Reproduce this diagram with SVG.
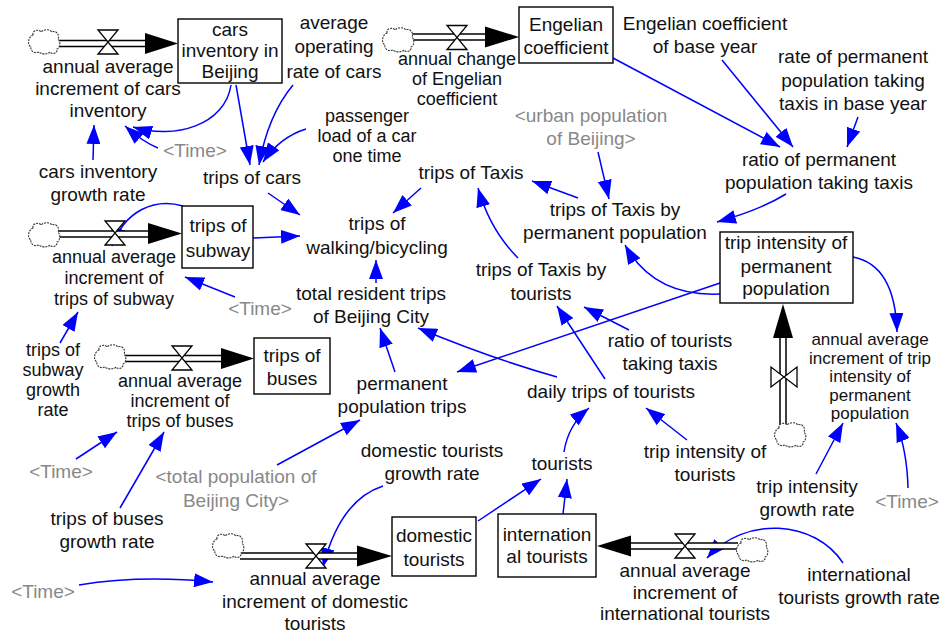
<svg xmlns="http://www.w3.org/2000/svg" width="943" height="637" viewBox="0 0 943 637">
<style>
.t{font-family:"Liberation Sans",Arial,sans-serif;font-size:19px;fill:#111;text-anchor:middle}
.g{fill:#888}
.f18{font-size:18px}
.f17{font-size:17px}
.box{fill:#fff;stroke:#000;stroke-width:1.4}
.po{fill:none;stroke:#000;stroke-width:7.5}
.pi{fill:none;stroke:#fff;stroke-width:4.5}
.fa{fill:#000}
.valve{fill:#fff;stroke:#000;stroke-width:1.3}
.cloud{fill:#fff;stroke:#333;stroke-width:1.1;stroke-dasharray:2 1}
.c{fill:none;stroke:#0000ff;stroke-width:1.5;marker-end:url(#a)}
</style>
<defs>
<marker id="a" markerWidth="19" markerHeight="14" refX="19" refY="7" orient="auto" markerUnits="userSpaceOnUse" viewBox="0 0 19 14"><path d="M0,0 L19,7 L0,14 z" fill="#0000ff"/></marker>
<path id="cl" d="M-11,-7 C-12,-12 -5,-13 -3,-10 C0,-13 6,-13 8,-10 C12,-12 16,-7 14,-3 C17,0 16,6 13,7 C14,11 8,13 6,10 C3,13 -3,12 -5,10 C-9,12 -14,9 -13,5 C-17,3 -16,-5 -11,-7 Z"/>
<path id="vh" d="M-10,-12 H10 L-10,12 H10 Z"/>
<path id="vv" d="M-13,-10 V10 L13,-10 V10 Z"/>
</defs>
<rect width="943" height="637" fill="#fff"/>

<g id="connectors">
<path class="c" d="M231,85 C225,125 175,140 133,127"/>
<path class="c" d="M158,148 Q143,142 125,126"/>
<path class="c" d="M93,160 L94,125"/>
<path class="c" d="M236,85 L250,165"/>
<path class="c" d="M293,85 Q268,115 259,165"/>
<path class="c" d="M306,129 Q280,137 263,162"/>
<path class="c" d="M268,193 L300,215"/>
<path class="c" d="M253,238 L300,236"/>
<path class="c" d="M421,188 L393,213"/>
<path class="c" d="M376,283 L376,260"/>
<path class="c" d="M395,372 L380,328"/>
<path class="c" d="M557,377 Q490,358 418,328"/>
<path class="c" d="M720,283 L457,372"/>
<path class="c" d="M720,294 Q654,297 625,245"/>
<path class="c" d="M786,194 Q760,210 717,222"/>
<path class="c" d="M598,152 L609,199"/>
<path class="c" d="M578,198 L532,181"/>
<path class="c" d="M518,258 Q490,230 478,188"/>
<path class="c" d="M605,379 L557,306"/>
<path class="c" d="M629,330 L584,307"/>
<path class="c" d="M564,452 Q568,425 589,408"/>
<path class="c" d="M687,440 L646,408"/>
<path class="c" d="M478,521 L541,479"/>
<path class="c" d="M563,514 L567,479"/>
<path class="c" d="M383,486 Q340,500 323,567"/>
<path class="c" d="M277,465 L360,420"/>
<path class="c" d="M120,508 L164,432"/>
<path class="c" d="M76,459 L117,432"/>
<path class="c" d="M79,585 Q140,575 213,582"/>
<path class="c" d="M60,343 L78,312"/>
<path class="c" d="M235,297 L185,277"/>
<path class="c" d="M183,206 C155,198 125,210 112,246"/>
<path class="c" d="M613,58 L780,147"/>
<path class="c" d="M722,60 L793,147"/>
<path class="c" d="M858,117 L847,147"/>
<path class="c" d="M853,257 Q895,265 897,332"/>
<path class="c" d="M816,474 L843,423"/>
<path class="c" d="M908,488 Q907,450 896,423"/>
<path class="c" d="M843,563 C815,520 745,515 707,558"/>
</g>

<g id="cars-inventory-flow">
<path class="po" d="M58,43.5 H150"/><path class="pi" d="M58,43.5 H150"/>
<use href="#cl" class="cloud" transform="translate(44,42)"/>
<polygon class="fa" points="145,33 178,43.5 145,54"/>
<use href="#vh" class="valve" transform="translate(108,42)"/>
<text class="t"><tspan x="108" y="73">annual average</tspan><tspan x="108" y="95">increment of cars</tspan><tspan x="108" y="117">inventory</tspan></text>
</g>
<g id="cars-inventory">
<rect class="box" x="178" y="19" width="104" height="64"/>
<text class="t"><tspan x="230" y="36">cars</tspan><tspan x="230" y="57">inventory in</tspan><tspan x="230" y="78">Beijing</tspan></text>
</g>
<g id="average-operating-rate"><text class="t"><tspan x="334" y="29">average</tspan><tspan x="334" y="53">operating</tspan><tspan x="334" y="78">rate of cars</tspan></text></g>
<g id="cars-growth-rate"><text class="t"><tspan x="98" y="178">cars inventory</tspan><tspan x="98" y="201">growth rate</tspan></text></g>
<g id="time-1"><text class="t g" x="195" y="157">&lt;Time&gt;</text></g>
<g id="trips-of-cars"><text class="t" x="252" y="184">trips of cars</text></g>
<g id="passenger-load"><text class="t f18"><tspan x="367" y="122">passenger</tspan><tspan x="367" y="142">load of a car</tspan><tspan x="367" y="162">one time</tspan></text></g>

<g id="engelian-flow">
<path class="po" d="M412,37 H490"/><path class="pi" d="M412,37 H490"/>
<use href="#cl" class="cloud" transform="translate(398,40)"/>
<polygon class="fa" points="485,26.5 519,37 485,47.5"/>
<use href="#vh" class="valve" transform="translate(457,37.5)"/>
<text class="t f18"><tspan x="457" y="65">annual change</tspan><tspan x="457" y="85">of Engelian</tspan><tspan x="457" y="105">coefficient</tspan></text>
</g>
<g id="engelian-coefficient">
<rect class="box" x="519" y="7" width="94" height="56"/>
<text class="t"><tspan x="566" y="31">Engelian</tspan><tspan x="566" y="54">coefficient</tspan></text>
</g>
<g id="engelian-base"><text class="t"><tspan x="705" y="30">Engelian coefficient</tspan><tspan x="705" y="53">of base year</tspan></text></g>
<g id="rate-base-year"><text class="t"><tspan x="853" y="63">rate of permanent</tspan><tspan x="853" y="87">population taking</tspan><tspan x="853" y="110">taxis in base year</tspan></text></g>
<g id="ratio-permanent"><text class="t"><tspan x="819" y="166">ratio of permanent</tspan><tspan x="819" y="189">population taking taxis</tspan></text></g>
<g id="urban-population"><text class="t g"><tspan x="591" y="122">&lt;urban population</tspan><tspan x="591" y="145">of Beijing&gt;</tspan></text></g>
<g id="trips-of-taxis"><text class="t" x="471" y="179">trips of Taxis</text></g>
<g id="taxis-permanent"><text class="t"><tspan x="615" y="216">trips of Taxis by</tspan><tspan x="615" y="239">permanent population</tspan></text></g>

<g id="trip-intensity-stock">
<rect class="box" x="720" y="232" width="133" height="71"/>
<text class="t"><tspan x="786" y="249">trip intensity of</tspan><tspan x="786" y="273">permanent</tspan><tspan x="786" y="295">population</tspan></text>
</g>
<g id="trip-intensity-flow">
<path class="po" d="M783,426 V334"/><path class="pi" d="M783,426 V334"/>
<use href="#cl" class="cloud" transform="translate(790,435)"/>
<polygon class="fa" points="773,338 783,304 793,338"/>
<use href="#vv" class="valve" transform="translate(784,377)"/>
<text class="t f17"><tspan x="870" y="345">annual average</tspan><tspan x="870" y="363.5">increment of trip</tspan><tspan x="870" y="382">intensity of</tspan><tspan x="870" y="400.5">permanent</tspan><tspan x="870" y="419">population</tspan></text>
</g>

<g id="walking"><text class="t"><tspan x="377" y="230">trips of</tspan><tspan x="377" y="254">walking/bicycling</tspan></text></g>
<g id="total-resident"><text class="t"><tspan x="371" y="300">total resident trips</tspan><tspan x="371" y="323">of Beijing City</tspan></text></g>
<g id="taxis-tourists"><text class="t"><tspan x="541" y="276">trips of Taxis by</tspan><tspan x="541" y="300">tourists</tspan></text></g>
<g id="ratio-tourists"><text class="t"><tspan x="670" y="347">ratio of tourists</tspan><tspan x="670" y="370">taking taxis</tspan></text></g>
<g id="daily-trips"><text class="t" x="611" y="398">daily trips of tourists</text></g>
<g id="permanent-trips"><text class="t"><tspan x="402" y="390">permanent</tspan><tspan x="402" y="413">population trips</tspan></text></g>

<g id="subway-flow">
<path class="po" d="M58,234 H152"/><path class="pi" d="M58,234 H152"/>
<use href="#cl" class="cloud" transform="translate(44,235)"/>
<polygon class="fa" points="148,223 182,233.5 148,244"/>
<use href="#vh" class="valve" transform="translate(115,233)"/>
<text class="t f18"><tspan x="114" y="263">annual average</tspan><tspan x="114" y="284">increment of</tspan><tspan x="114" y="305">trips of subway</tspan></text>
</g>
<g id="trips-of-subway">
<rect class="box" x="182" y="206" width="71" height="62"/>
<text class="t"><tspan x="218" y="232">trips of</tspan><tspan x="218" y="257">subway</tspan></text>
</g>
<g id="time-2"><text class="t g" x="260" y="315">&lt;Time&gt;</text></g>
<g id="subway-growth"><text class="t f18"><tspan x="53" y="356">trips of</tspan><tspan x="53" y="376">subway</tspan><tspan x="53" y="396">growth</tspan><tspan x="53" y="416">rate</tspan></text></g>

<g id="buses-flow">
<path class="po" d="M123,358.5 H226"/><path class="pi" d="M123,358.5 H226"/>
<use href="#cl" class="cloud" transform="translate(110,357)"/>
<polygon class="fa" points="221,348 254,358.5 221,369"/>
<use href="#vh" class="valve" transform="translate(182,358)"/>
<text class="t f18"><tspan x="180" y="387">annual average</tspan><tspan x="180" y="407">increment of</tspan><tspan x="180" y="427">trips of buses</tspan></text>
</g>
<g id="trips-of-buses">
<rect class="box" x="254" y="338" width="76" height="56"/>
<text class="t"><tspan x="292" y="362">trips of</tspan><tspan x="292" y="385">buses</tspan></text>
</g>
<g id="time-3"><text class="t g" x="61" y="478">&lt;Time&gt;</text></g>
<g id="buses-growth"><text class="t"><tspan x="107" y="525">trips of buses</tspan><tspan x="107" y="548">growth rate</tspan></text></g>
<g id="total-population"><text class="t g"><tspan x="236" y="483">&lt;total population of</tspan><tspan x="236" y="507">Beijing City&gt;</tspan></text></g>

<g id="domestic-growth"><text class="t"><tspan x="432" y="457">domestic tourists</tspan><tspan x="432" y="480">growth rate</tspan></text></g>
<g id="tourists"><text class="t" x="562" y="470">tourists</text></g>
<g id="trip-intensity-tourists"><text class="t"><tspan x="705" y="458">trip intensity of</tspan><tspan x="705" y="481">tourists</tspan></text></g>
<g id="trip-intensity-growth"><text class="t"><tspan x="807" y="493">trip intensity</tspan><tspan x="807" y="516">growth rate</tspan></text></g>
<g id="time-4"><text class="t g" x="907" y="508">&lt;Time&gt;</text></g>

<g id="domestic-flow">
<path class="po" d="M240,556 H362"/><path class="pi" d="M240,556 H362"/>
<use href="#cl" class="cloud" transform="translate(228,546)"/>
<polygon class="fa" points="357,545.5 392,556 357,566.5"/>
<use href="#vh" class="valve" transform="translate(316,556)"/>
<text class="t"><tspan x="315" y="585">annual average</tspan><tspan x="315" y="608">increment of domestic</tspan><tspan x="315" y="630">tourists</tspan></text>
</g>
<g id="domestic-tourists">
<rect class="box" x="392" y="517" width="84" height="59"/>
<text class="t"><tspan x="434" y="542">domestic</tspan><tspan x="434" y="566">tourists</tspan></text>
</g>
<g id="international-tourists">
<rect class="box" x="498" y="514" width="98" height="63"/>
<text class="t"><tspan x="547" y="541">internation</tspan><tspan x="547" y="563">al tourists</tspan></text>
</g>
<g id="international-flow">
<path class="po" d="M738,546 H626"/><path class="pi" d="M738,546 H626"/>
<use href="#cl" class="cloud" transform="translate(752,550)"/>
<polygon class="fa" points="631,535.5 597,546 631,556.5"/>
<use href="#vh" class="valve" transform="translate(685,546)"/>
<text class="t"><tspan x="685" y="577">annual average</tspan><tspan x="685" y="599">increment of</tspan><tspan x="685" y="620">international tourists</tspan></text>
</g>
<g id="international-growth"><text class="t"><tspan x="859" y="581">international</tspan><tspan x="859" y="604">tourists growth rate</tspan></text></g>
<g id="time-5"><text class="t g" x="43" y="598">&lt;Time&gt;</text></g>
</svg>
